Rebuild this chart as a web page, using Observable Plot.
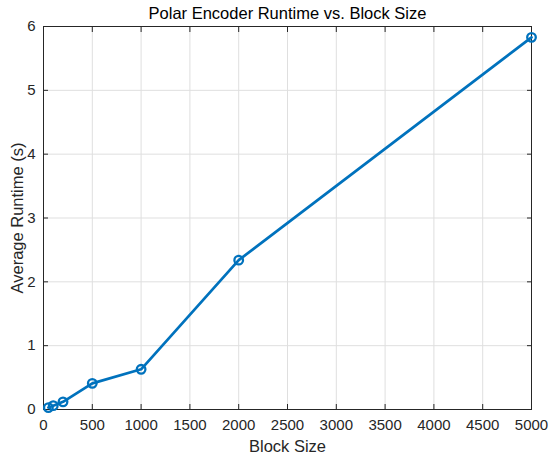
<!DOCTYPE html>
<html><head><meta charset="utf-8">
<script src="https://cdn.jsdelivr.net/npm/d3@7"></script>
<script src="https://cdn.jsdelivr.net/npm/@observablehq/plot@0.6"></script>
<style>body{margin:0;background:#fff}</style>
</head><body><div id="chart"></div>
<script>
const blockSize = [50, 100, 200, 500, 1000, 2000, 5000];
const runtime = [0.03, 0.06, 0.12, 0.41, 0.63, 2.34, 5.83];
const xTicks = [0,500,1000,1500,2000,2500,3000,3500,4000,4500,5000];
const yTicks = [0,1,2,3,4,5,6];
const titleText = "Polar Encoder Runtime vs. Block Size";
const xLabel = "Block Size";
const yLabel = "Average Runtime (s)";
const data = blockSize.map((b,i)=>({b, r: runtime[i]}));
const blue = "#0072BD";
const axisColor = "#262626";
const chart = Plot.plot({
  width: 550, height: 458,
  marginLeft: 43, marginRight: 19, marginTop: 26, marginBottom: 49,
  style: {fontFamily: "'Liberation Sans', Arial, sans-serif", fontSize: "14px", color: axisColor, background: "#fff"},
  x: {domain: [0, 5000], ticks: xTicks},
  y: {domain: [0, 6], ticks: yTicks},
  marks: [
    Plot.gridX(xTicks, {stroke: "#dfdfdf", strokeOpacity: 1, strokeWidth: 1}),
    Plot.gridY(yTicks, {stroke: "#dfdfdf", strokeOpacity: 1, strokeWidth: 1}),
    Plot.axisX(xTicks, {anchor: "bottom", tickSize: -5, text: null, stroke: axisColor, label: null}),
    Plot.axisX(xTicks, {anchor: "top", tickSize: -5, text: null, stroke: axisColor, label: null}),
    Plot.axisY(yTicks, {anchor: "left", tickSize: -5, text: null, stroke: axisColor, label: null}),
    Plot.axisY(yTicks, {anchor: "right", tickSize: -5, text: null, stroke: axisColor, label: null}),
    Plot.text(xTicks, {x: d => d, text: d => String(d), frameAnchor: "bottom", lineAnchor: "middle", dy: 16, fontSize: 15, fill: axisColor}),
    Plot.text(yTicks, {y: d => d, text: d => String(d), frameAnchor: "left", textAnchor: "end", lineAnchor: "middle", dx: -8, fontSize: 15, fill: axisColor}),
    Plot.frame({stroke: axisColor, strokeWidth: 1}),
    Plot.line(data, {x: "b", y: "r", stroke: blue, strokeWidth: 2.7}),
    Plot.dot(data, {x: "b", y: "r", r: 4.3, stroke: blue, strokeWidth: 2.3, fill: "none"}),
    Plot.text([titleText], {frameAnchor: "top", lineAnchor: "middle", dy: -13, fontSize: 16.5, fill: "#000"}),
    Plot.text([xLabel], {frameAnchor: "bottom", lineAnchor: "middle", dy: 37, fontSize: 16.5, fill: axisColor}),
    Plot.text([yLabel], {frameAnchor: "left", textAnchor: "middle", lineAnchor: "middle", dx: -26, rotate: -90, fontSize: 16.5, fill: axisColor})
  ]
});
document.getElementById("chart").append(chart);
</script>
</body></html>
